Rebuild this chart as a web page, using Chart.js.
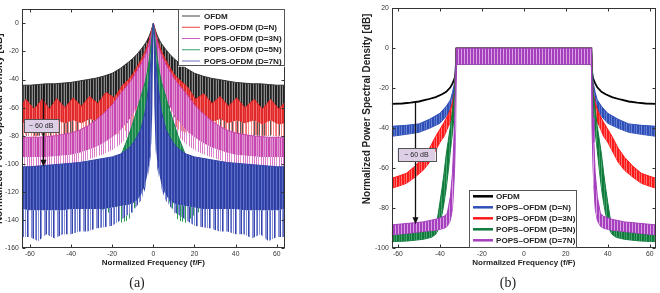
<!DOCTYPE html>
<html><head><meta charset="utf-8">
<script src="https://cdn.jsdelivr.net/npm/chart.js@4.4.0/dist/chart.umd.min.js"></script>
<style>
html,body{margin:0;padding:0;background:#fff;width:660px;height:293px;overflow:hidden;position:relative}
#ca{position:absolute;left:-7px;top:0}
#cb{position:absolute;left:330px;top:0}
.cap{position:absolute;top:275px;font:14px "Liberation Serif","DejaVu Serif",serif;color:#222;transform:translateX(-50%)}
</style></head><body>
<canvas id="ca" width="337" height="293"></canvas>
<canvas id="cb" width="330" height="293"></canvas>
<div class="cap" style="left:137px">(a)</div>
<div class="cap" style="left:508px">(b)</div>
<script>
// ---------------- DATA (a) ----------------
const XTICKS_A = [-60,-40,-20,0,20,40,60];
const YTICKS_A = [-160,-140,-120,-100,-80,-60,-40,-20,0];
const LEGEND_A = ['OFDM','POPS-OFDM (D=N)','POPS-OFDM (D=3N)','POPS-OFDM (D=5N)','POPS-OFDM (D=7N)'];
const XA = [-64,-60,-56,-52,-48,-44,-40,-36,-32,-28,-24,-20,-16,-12,-10,-8,-6,-4,-3,-2,-1,-0.5,0,0.5,1,2,3,4,6,8,10,12,16,20,24,28,32,36,40,44,48,52,56,60,64];
const OFDM_A_UP  = [-44,-44,-43.5,-43,-43,-42.5,-42,-41,-40,-39,-37.5,-35.5,-32,-27.5,-25,-22,-18.5,-14.5,-12,-9,-5,-2.5,0,-2.5,-5,-9,-12,-14.5,-18.5,-22,-25,-27.5,-32,-35.5,-37.5,-39,-40,-41,-42,-42.5,-43,-43,-43.5,-44,-44];
const OFDM_A_MID = [-63,-62,-62,-62,-62,-61,-61,-60,-60,-59,-58,-57,-55,-50,-46,-42,-37,-30,-26,-20,-12,-6,0,-6,-12,-20,-26,-30,-37,-42,-46,-50,-55,-57,-58,-59,-60,-60,-61,-61,-62,-62,-62,-62,-63];
const OFDM_A_LOW = [-80,-80,-80,-80,-80,-80,-80,-80,-80,-80,-79,-78,-75,-70,-66,-62,-56,-48,-42,-35,-22,-12,0,-12,-22,-35,-42,-48,-56,-62,-66,-70,-75,-78,-79,-80,-80,-80,-80,-80,-80,-80,-80,-80,-80];
const XR_A = [-64,-62,-58,-54,-50.5,-47,-43,-39,-35,-31,-27,-23,-19,-15,-12,-10,-8,-6,-4,-3,-2,-1,-0.5,0,0.5,1,2,3,4,6,8,10,12.5,16.5,20.5,24.5,28.5,32.5,36.5,40.5,44.5,49,53,57,61,64];
const RED_A_UP  = [-58,-54,-61,-54,-61,-53.5,-60,-53,-59,-52,-57,-49,-53,-44,-40,-36,-31,-26,-20,-16,-12,-6,-3,0,-3,-6,-12,-16,-20,-26,-31,-36,-40,-45,-54,-50,-57,-52,-59,-53,-60,-54,-61,-54,-61,-56];
const RED_A_MID = [-71,-70,-72,-69,-72,-69,-71,-69,-71,-68,-70,-67,-68,-66,-63,-60,-56,-50,-42,-36,-28,-17,-8,0,-8,-17,-28,-36,-42,-50,-56,-60,-64,-66,-69,-67,-70,-68,-71,-69,-71,-69,-72,-69,-72,-71];
const RED_A_LOW = [-80,-79,-81,-79,-81,-79,-81,-79,-80,-78,-80,-77,-79,-78,-75,-72,-68,-62,-54,-48,-40,-26,-14,0,-14,-26,-40,-48,-54,-62,-68,-72,-76,-78,-80,-78,-80,-79,-81,-79,-81,-79,-81,-79,-81,-80];
const MAG_A_UP  = [-81,-81,-81,-80.5,-80,-79,-78,-76,-73,-69,-64,-58,-50,-43,-39,-34,-29,-23,-19,-14,-8,-4,0,-4,-8,-14,-19,-23,-29,-34,-39,-43,-50,-58,-64,-69,-73,-76,-78,-79,-80,-80.5,-81,-81,-81];
const MAG_A_MID = [-95,-95,-95,-95,-94.5,-94,-93.5,-92,-90,-88,-85,-81,-76,-69,-65,-59,-53,-46,-41,-34,-23,-12,0,-12,-23,-34,-41,-46,-53,-59,-65,-69,-76,-81,-85,-88,-90,-92,-93.5,-94,-94.5,-95,-95,-95,-95];
const MAG_A_LOW = [-103,-103,-103,-102,-102,-101,-100,-99,-97,-95,-93,-90,-86,-80,-76,-71,-65,-58,-52,-44,-30,-16,0,-16,-30,-44,-52,-58,-65,-71,-76,-80,-86,-90,-93,-95,-97,-99,-100,-101,-102,-102,-103,-103,-103];
const GRN_A_UP  = [-108,-108,-107,-107,-106,-106,-105,-105,-104,-103,-102,-100,-95,-80,-71,-62,-52,-42,-35,-26,-14,-6,0,-6,-14,-26,-35,-42,-52,-62,-71,-80,-95,-100,-102,-103,-104,-105,-105,-106,-106,-107,-107,-108,-108];
const GRN_A_MID = [-120,-120,-120,-120,-120,-120,-120,-121,-122,-123,-124,-126,-130,-128,-124,-118,-110,-98,-88,-76,-55,-30,0,-30,-55,-76,-88,-98,-110,-118,-124,-128,-130,-126,-124,-123,-122,-121,-120,-120,-120,-120,-120,-120,-120];
const GRN_A_LOW = [-128,-128,-128,-128,-128,-128,-128,-129,-130,-131,-133,-136,-142,-140,-134,-128,-120,-108,-98,-85,-62,-36,0,-36,-62,-85,-98,-108,-120,-128,-134,-140,-142,-136,-133,-131,-130,-129,-128,-128,-128,-128,-128,-128,-128];
const BLU_A_UP  = [-102,-102,-101.5,-101,-100.5,-100,-99.5,-99,-98,-97,-96,-95,-93,-89,-85.5,-81,-75,-63,-53,-40,-24,-12,0,-12,-24,-40,-53,-63,-75,-81,-85.5,-89,-93,-95,-96,-97,-98,-99,-99.5,-100,-100.5,-101,-101.5,-102,-102];
const BLU_A_MID = [-132,-133,-133,-133,-133,-133,-132,-132,-132,-132,-132,-131,-130,-129,-128,-126,-122,-115,-108,-100,-85,-60,0,-60,-85,-100,-108,-115,-122,-126,-128,-129,-130,-131,-132,-132,-132,-132,-132,-133,-133,-133,-133,-133,-132];
const BLU_A_LOW = [-152,-152,-155,-150,-153,-150,-150,-148,-148,-146,-145,-144,-140,-136,-134,-130,-126,-118,-112,-104,-90,-64,0,-64,-90,-104,-112,-118,-126,-130,-134,-136,-140,-144,-145,-146,-148,-148,-150,-150,-153,-150,-155,-152,-152];
const ARROW_A = [-53.8, -44, -102];
const BOX_A = [-62.9, -68.3, -46.1, -77.7];

// ---------------- DATA (b) ----------------
const XTICKS_B = [-60,-40,-20,0,20,40,60];
const YTICKS_B = [-100,-80,-60,-40,-20,0,20];
const LEGEND_B = ['OFDM','POPS\u2013OFDM (D=N)','POPS\u2013OFDM (D=3N)','POPS\u2013OFDM (D=5N)','POPS\u2013OFDM (D=7N)'];
const XB_OFDM = [-63,-58,-54,-50,-46,-42,-39,-37,-35,-34,-33,-32.5,-32.2,32.2,32.5,33,34,35,37,39,42,46,50,54,58,63];
const OFDM_B  = [-27.8,-27.6,-27.2,-26.6,-25.6,-24.4,-23,-21.8,-19.5,-17.5,-15,-12,0,0,-12,-15,-17.5,-19.5,-21.8,-23,-24.4,-25.6,-26.6,-27.2,-27.6,-27.8];
const XB_DN = [-63,-56,-50,-45,-40,-37,-35,-34,-33,-32.2,32.2,33,34,35,37,40,45,50,56,63];
const DN_B_UP = [-39,-38.5,-37.8,-35.5,-32.5,-29,-25.8,-22,-17,0,0,-17,-22,-25.8,-29,-32.5,-35.5,-37.8,-38.5,-39];
const DN_B_LO = [-44,-43,-42,-40,-37.5,-34,-31,-27,-22,-8,-8,-22,-27,-31,-34,-37.5,-40,-42,-43,-44];
const XB_D3N = [-63,-60,-56,-52,-48,-45,-42,-40,-38,-36,-35,-34,-33,-32.2,32.2,33,34,35,36,38,40,42,45,48,52,56,60,63];
const D3N_B_UP = [-65,-64,-62.5,-59,-54.5,-50,-44,-40.5,-37,-33,-30.5,-27,-22,0,0,-22,-27,-30.5,-33,-37,-40.5,-44,-50,-54.5,-59,-62.5,-64,-65];
const D3N_B_LO = [-70,-69,-67.5,-64.5,-61,-57,-51,-47,-44,-39,-37,-33,-28,-8,-8,-28,-33,-37,-39,-44,-47,-51,-57,-61,-64.5,-67.5,-69,-70];
const XB_D5N = [-63,-55,-48,-44,-42,-41,-40,-39,-38,-37,-36,-35,-34,-33,-32.2,32.2,33,34,35,36,37,38,39,40,41,42,44,48,55,63];
const D5N_B_UP = [-92.5,-92,-91.5,-90.5,-88,-84,-77,-70,-62,-53,-46,-39,-31,-22,0,0,-22,-31,-39,-46,-53,-62,-70,-77,-84,-88,-90.5,-91.5,-92,-92.5];
const D5N_B_LO = [-96.7,-96.3,-95.5,-94.5,-93,-91,-87,-83,-77,-70,-61,-51,-42,-31,-8,-8,-31,-42,-51,-61,-70,-77,-83,-87,-91,-93,-94.5,-95.5,-96.3,-96.7];
const XB_D7N = [-63,-55,-48,-42,-38,-36.5,-35,-34,-33.4,-33,-32.5,-32.2,32.2,32.5,33,33.4,34,35,36.5,38,42,48,55,63];
const D7N_B_UP = [-88.3,-87.5,-86.8,-85.5,-84,-82.5,-74,-62,-47,-35,-18,0,0,-18,-35,-47,-62,-74,-82.5,-84,-85.5,-86.8,-87.5,-88.3];
const D7N_B_LO = [-93.3,-92.5,-91.6,-91,-90,-89,-86,-80,-69,-60,-40,-8,-8,-40,-60,-69,-80,-86,-89,-90,-91,-91.6,-92.5,-93.3];
const ARROW_B = [-51.7, -27.2, -88];
const BOX_B = [-60.2, -50, -42.2, -56.7];
const BOX_TEXT = '~ 60 dB';
const Y_TITLE = 'Normalized Power Spectral Density [dB]';
const X_TITLE = 'Normalized Frequency (f/F)';

// ---------------- helpers ----------------
const FAM = '"Liberation Sans", Arial, Helvetica, sans-serif';
const NONE = 'rgba(0,0,0,0)';
function pts(xs, ys){ return xs.map((x,i)=>({x:x, y:ys[i]})); }
// pattern of vertical 1px columns (null = transparent)
function cols(list){
  const cv = document.createElement('canvas'); cv.width = list.length; cv.height = 1;
  const g = cv.getContext('2d');
  list.forEach((c,i) => { if (c) { g.fillStyle = c; g.fillRect(i,0,1,1); } });
  return g.createPattern(cv, 'repeat');
}
function addBand(list, xs, up, mid, low, col, dense, spike, order, lw){
  const iUp = list.length;
  list.push({data: pts(xs, up), borderColor: col, borderWidth: lw, backgroundColor: dense,
    fill: {target: iUp + 1}, order: order});
  if (low) {
    list.push({data: pts(xs, mid), borderColor: NONE, borderWidth: 0, backgroundColor: spike,
      fill: {target: iUp + 2}, order: order});
    list.push({data: pts(xs, low), borderColor: NONE, borderWidth: 0, fill: false, order: order});
  } else {
    list.push({data: pts(xs, mid), borderColor: col, borderWidth: lw, fill: false, order: order});
  }
}

const framePlugin = {
  id: 'frame',
  afterDatasetsDraw(chart){
    const {ctx, chartArea: a, scales} = chart;
    const L = Math.round(a.left)+0.5, R = Math.round(a.right)-0.5, T = Math.round(a.top)+0.5, B = Math.round(a.bottom)-0.5;
    ctx.save();
    ctx.strokeStyle = '#333'; ctx.lineWidth = 1;
    ctx.beginPath();
    scales.x.ticks.forEach(t => { const p = Math.round(scales.x.getPixelForValue(t.value))+0.5; ctx.moveTo(p,B); ctx.lineTo(p,B-3); ctx.moveTo(p,T); ctx.lineTo(p,T+3); });
    scales.y.ticks.forEach(t => { const p = Math.round(scales.y.getPixelForValue(t.value))+0.5; ctx.moveTo(L,p); ctx.lineTo(L+3,p); ctx.moveTo(R,p); ctx.lineTo(R-3,p); });
    ctx.stroke();
    ctx.strokeRect(L, T, R-L, B-T);
    ctx.restore();
  }
};
const annotPlugin = {
  id: 'annot',
  afterDatasetsDraw(chart, args, o){
    const {ctx, scales:{x, y}} = chart;
    const ax = Math.round(x.getPixelForValue(o.arrow[0]))+0.5;
    const ay1 = y.getPixelForValue(o.arrow[1]), ay2 = y.getPixelForValue(o.arrow[2]);
    ctx.save();
    ctx.strokeStyle = '#111'; ctx.lineWidth = 1.3;
    ctx.beginPath(); ctx.moveTo(ax, ay1); ctx.lineTo(ax, ay2-5); ctx.stroke();
    ctx.fillStyle = '#111';
    ctx.beginPath(); ctx.moveTo(ax-3, ay2-7); ctx.lineTo(ax+3, ay2-7); ctx.lineTo(ax, ay2); ctx.closePath(); ctx.fill();
    const bx1 = x.getPixelForValue(o.box[0]), by1 = y.getPixelForValue(o.box[1]);
    const bx2 = x.getPixelForValue(o.box[2]), by2 = y.getPixelForValue(o.box[3]);
    ctx.fillStyle = '#dccfe6'; ctx.fillRect(bx1, by1, bx2-bx1, by2-by1);
    ctx.strokeStyle = '#555'; ctx.lineWidth = 1;
    ctx.strokeRect(Math.round(bx1)+0.5, Math.round(by1)+0.5, Math.round(bx2-bx1), Math.round(by2-by1));
    ctx.fillStyle = '#222'; ctx.font = '7px ' + FAM; ctx.textAlign = 'center'; ctx.textBaseline = 'middle';
    ctx.fillText(o.text, (bx1+bx2)/2, (by1+by2)/2+0.5);
    ctx.restore();
  }
};
const legendPlugin = {
  id: 'lbox',
  afterDatasetsDraw(chart, args, o){
    const {ctx, chartArea: a} = chart;
    const left = o.right ? a.right - o.w : a.left + o.dx;
    const top = o.bottom ? a.bottom - o.h : a.top;
    ctx.save();
    ctx.fillStyle = '#fff'; ctx.fillRect(left, top, o.w, o.h);
    ctx.strokeStyle = '#555'; ctx.lineWidth = 1;
    ctx.strokeRect(Math.round(left)+0.5, Math.round(top)+0.5, Math.round(o.w)-1, Math.round(o.h)-1);
    ctx.font = 'bold 8.1px ' + FAM; ctx.textBaseline = 'middle'; ctx.textAlign = 'left';
    o.labels.forEach((lab, i) => {
      const yy = top + o.y0 + o.dy*i;
      ctx.strokeStyle = o.colors[i]; ctx.lineWidth = o.lw;
      ctx.beginPath(); ctx.moveTo(left+o.l0, yy); ctx.lineTo(left+o.l1, yy); ctx.stroke();
      ctx.fillStyle = '#222'; ctx.fillText(lab, left+o.tx, yy+0.5);
    });
    ctx.restore();
  }
};

function axes(xmin, xmax, ymin, ymax, xt, yt, ywidth, ytitle){
  const tf = {family: FAM, size: 6.8};
  return {
    x: {type:'linear', min:xmin, max:xmax,
      afterBuildTicks: s => { s.ticks = xt.map(v => ({value:v})); },
      afterFit: s => { s.height = 19.5; },
      grid: {display:false, drawTicks:false}, border: {display:false},
      ticks: {padding:2, font: tf, color:'#333', maxRotation:0, autoSkip:false},
      title: {display:true, text: X_TITLE, font:{family:FAM, size:8, weight:'bold'}, color:'#222', padding:0}},
    y: {type:'linear', min:ymin, max:ymax,
      afterBuildTicks: s => { s.ticks = yt.map(v => ({value:v})); },
      afterFit: s => { s.width = ywidth; },
      grid: {display:false, drawTicks:false}, border: {display:false},
      ticks: {padding:3, font: tf, color:'#333', autoSkip:false},
      title: {display:true, text: ytitle, font:{family:FAM, size:10, weight:'bold'}, color:'#222', padding:0}}
  };
}

// ---------------- chart (a) ----------------
const K='#222', G='#8a8a8a', g2='#5a5a5a';
const R1='#e02828', R2='#f27070', R3='#f48a8a';
const M1='#c846b0', M2='#e094d2', M3='#d878c8';
const E1='#17874a', E2='#5cae7e', E3='#2a9a58';
const B1='#3344aa', B2='#5a6cc4', B3='#8a92d6', B4='#2a3a9c';
const dsA = [];
addBand(dsA, XA, OFDM_A_UP, OFDM_A_MID, OFDM_A_LOW, '#333', cols([K,G,K,K,G,K,'#444',G]), cols([g2,null,g2,null,null,g2,null,g2,g2,null,null]), 50, 1);
addBand(dsA, XR_A, RED_A_UP, RED_A_MID, RED_A_LOW, R1, cols([R1,R2,R1,R1,R2,R1,'#ea4040']), cols([R3,null,R3,R2,null,R3,null,null,R3,null]), 40, 1);
addBand(dsA, XA, MAG_A_UP, MAG_A_MID, MAG_A_LOW, M1, cols([M1,M2,M1,M1,M2,'#d060bc',M2]), cols([M3,null,M3,null,M2,null,null,M3,null]), 30, 1);
addBand(dsA, XA, GRN_A_UP, GRN_A_MID, GRN_A_LOW, E1, cols([E1,E2,E1,E1,E2,E1]), cols([E3,null,null,E3,null,E3,null,null]), 20, 1);
addBand(dsA, XA, BLU_A_UP, BLU_A_MID, BLU_A_LOW, B1, cols([B1,B2,B4,B1,B2,B1,B4,'#6474c8',B1]), cols([B3,B1,null,B3,B2,null,B3,null,B1,B3,null,null,B3]), 10, 1);

new Chart(document.getElementById('ca'), {
  type: 'line',
  data: {datasets: dsA},
  options: {
    responsive:false, animation:false, events:[],
    elements: {point:{radius:0}, line:{tension:0}},
    layout: {padding: {left:0, top:9.3, right:45, bottom:25.2}},
    scales: axes(-64, 64, -160, 10, XTICKS_A, YTICKS_A, 28.7, Y_TITLE),
    plugins: {legend:{display:false}, tooltip:{enabled:false},
      annot: {arrow: ARROW_A, box: BOX_A, text: BOX_TEXT},
      lbox: {labels: LEGEND_A, colors:['#444','#e84040','#d060c0','#3aa070','#6f72b8'], right:true, bottom:false, w:107, h:57.4, y0:6.7, dy:11.25, l0:4, l1:22, tx:26, lw:1}}
  },
  plugins: [framePlugin, annotPlugin, legendPlugin]
});

// ---------------- chart (b) ----------------
const dsB = [];
dsB.push({data: pts(XB_OFDM, OFDM_B), borderColor:'#000', borderWidth:1.8, fill:false, order:50});
addBand(dsB, XB_DN, DN_B_UP, DN_B_LO, null, '#3050b8', cols(['#2f4fb8','#6a84d4','#2f4fb8','#2f4fb8','#5a74cc']), null, 40, 1);
addBand(dsB, XB_D3N, D3N_B_UP, D3N_B_LO, null, '#ff1a1a', cols(['#ff1a1a','#ff7474','#ff1a1a','#ff1a1a','#ff5a5a']), null, 30, 1);
addBand(dsB, XB_D5N, D5N_B_UP, D5N_B_LO, null, '#0f7a3c', cols(['#0f7a3c','#46a46c','#0f7a3c','#0f7a3c','#3a9a60']), null, 20, 1);
addBand(dsB, XB_D7N, D7N_B_UP, D7N_B_LO, null, '#a53fbd', cols(['#a53fbd','#a53fbd','#d8a2e2']), null, 10, 1);

// leading non-breaking spaces lift the rotated y title as in the reference
const Y_TITLE_B = '\u00A0'.repeat(14) + Y_TITLE;
new Chart(document.getElementById('cb'), {
  type: 'line',
  data: {datasets: dsB},
  options: {
    responsive:false, animation:false, events:[],
    elements: {point:{radius:0}, line:{tension:0}},
    layout: {padding: {left:31.7, top:8.3, right:4, bottom:25.2}},
    scales: axes(-63, 63, -100, 20, XTICKS_B, YTICKS_B, 30, Y_TITLE_B),
    plugins: {legend:{display:false}, tooltip:{enabled:false},
      annot: {arrow: ARROW_B, box: BOX_B, text: BOX_TEXT},
      lbox: {labels: LEGEND_B, colors:['#000','#3050b8','#ff1a1a','#0f7a3c','#a53fbd'], right:false, bottom:true, dx:77.3, w:108, h:58, y0:6, dy:11, l0:4, l1:24, tx:27, lw:2.5}}
  },
  plugins: [framePlugin, annotPlugin, legendPlugin]
});
</script>
</body></html>
